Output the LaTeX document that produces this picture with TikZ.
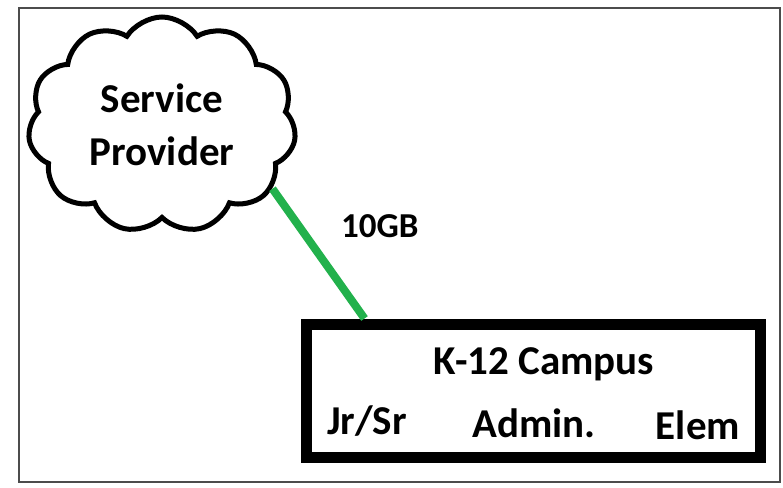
\documentclass[tikz,border=0pt]{standalone}
\usepackage{fontspec}
\setmainfont{Carlito}
\usetikzlibrary{positioning,calc,shapes.symbols}

\begin{document}
\begin{tikzpicture}[x=1pt,y=-1pt,
                sp/.style={cloud,draw,line width=5pt,cloud puffs=11,cloud puff arc=115,
                           cloud ignores aspect,minimum width=268pt,minimum height=216pt,align=center,
                           inner sep=0pt,font=\bfseries\fontsize{41}{53}\selectfont},
                site/.style={draw,line width=11pt,minimum width=454pt,minimum height=133pt},
                lbl/.style={inner sep=0pt,font=\bfseries\fontsize{41}{46}\selectfont},
                link/.style={line width=8pt,draw={rgb,255:red,34;green,177;blue,76}}]

\useasboundingbox (0,0) rectangle (783,487);
\draw[line width=2pt,black!70] (19,8) rectangle (780,482);

\node[sp]   (provider) at (162,125) {Service\\Provider};
\node[site] (campus)   at (533,390.5) {};

\node[lbl] (k12)   at (544,364) {K-12 Campus};
\node[lbl] (jrsr)  at (367,421) {Jr/Sr};
\node[lbl] (admin) at (534,423) {Admin.};
\node[lbl] (elem)  at (698,425) {Elem};

\draw[link] (provider.-30) -- ($(campus.north west)+(64,0)$) node[pos=0.29,right=38pt,lbl,font=\bfseries\fontsize{35}{40}\selectfont] (speed) {10GB};

\end{tikzpicture}
\end{document}
